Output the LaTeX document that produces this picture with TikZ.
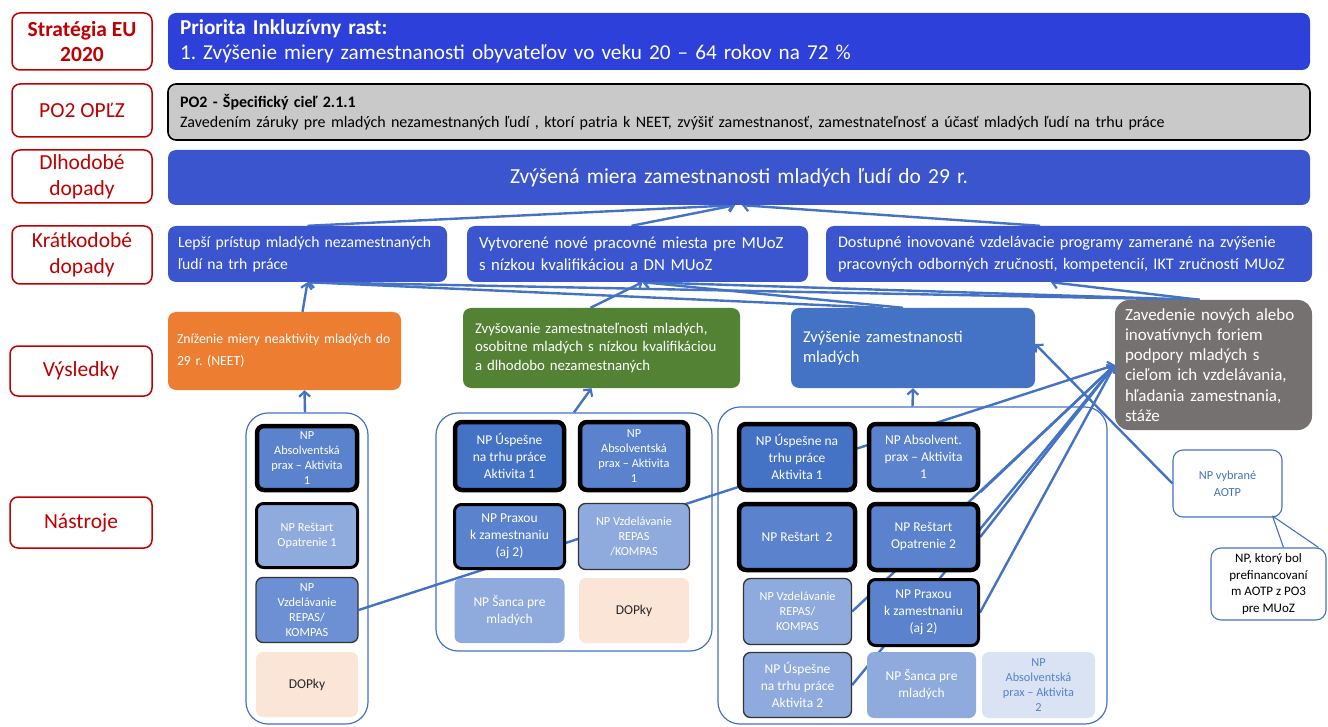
\documentclass[tikz,border=0pt]{standalone}
\usepackage{fontspec}
\setmainfont{Carlito}
\usetikzlibrary{arrows.meta,calc}
\definecolor{labred}{HTML}{C00000}
\definecolor{topblue}{HTML}{2E40DA}
\definecolor{midblue}{HTML}{3B55CF}
\definecolor{bandgray}{HTML}{C9C9C9}
\definecolor{resorange}{HTML}{ED7D31}
\definecolor{resgreen}{HTML}{548235}
\definecolor{resblue}{HTML}{4472C4}
\definecolor{resgray}{HTML}{767171}
\definecolor{tdark}{HTML}{4472C4}
\definecolor{tmed}{HTML}{5A82CD}
\definecolor{tmed2}{HTML}{6D90D4}
\definecolor{tlight}{HTML}{8FAADC}
\definecolor{tvlight}{HTML}{DAE3F3}
\definecolor{tpeach}{HTML}{FBE5D6}
\definecolor{lineblue}{HTML}{4472C4}
\pgfdeclarelayer{grp}
\pgfdeclarelayer{con}
\pgfsetlayers{grp,con,main}
\frenchspacing
\begin{document}
\begin{tikzpicture}[x=1pt,y=-1pt,
  lab/.style={draw=labred, line width=1.5pt, rounded corners=8pt, fill=white, text=labred, align=center, inner sep=0pt, font=\fontsize{21.5}{26}\selectfont},
  band/.style={rounded corners=8pt, inner sep=0pt, inner xsep=12pt, align=left},
  grpbox/.style={draw=lineblue, line width=1.2pt, rounded corners=22pt, inner sep=0pt},
  tool/.style={rounded corners=7pt, inner sep=0pt, align=center, text=white, font=\fontsize{13.5}{17}\selectfont},
  tsmall/.style={font=\fontsize{12.3}{15}\selectfont},
  bthick/.style={draw=black, line width=4.5pt},
  bmed/.style={draw=black, line width=3pt},
  bthin/.style={draw=black!80, line width=1.3pt},
  con/.style={draw=lineblue, line width=2.4pt, -{Straight Barb[length=5pt,width=11pt,line width=2.2pt]}},
  callbox/.style={draw=lineblue, line width=1.1pt, rounded corners=10pt, fill=white, inner sep=0pt, align=center}
]
\useasboundingbox (0,0) rectangle (1328,727);

% left labels
\node[lab, font=\bfseries\fontsize{21.5}{25}\selectfont, minimum width=140, minimum height=57] (lStrat) at (82,41.5) {Stratégia EU\\2020};
\node[lab, minimum width=140, minimum height=53] (lPO2) at (82,110.5) {PO2 OPĽZ};
\node[lab, minimum width=140, minimum height=53] (lDl) at (82,176.5) {Dlhodobé\\dopady};
\node[lab, minimum width=140, minimum height=58] (lKr) at (82,255) {Krátkodobé\\dopady};
\node[lab, minimum width=142, minimum height=50] (lVy) at (81,371) {Výsledky};
\node[lab, minimum width=142, minimum height=51] (lNa) at (81,522.5) {Nástroje};

% bands
\node[band, fill=topblue, text=white, text width=1118, minimum height=57, font=\fontsize{21.2}{25}\selectfont] (top) at (739,41.5) {\textbf{Priorita Inkluzívny rast:}\\1. Zvýšenie miery zamestnanosti obyvateľov vo veku 20 – 64 rokov na 72 \%};
\node[band, fill=bandgray, draw=black, line width=1.6pt, text=black, text width=1118, minimum height=56, font=\fontsize{16}{20.5}\selectfont] (po2) at (739,112) {\textbf{PO2 - Špecifický cieľ 2.1.1}\\Zavedením záruky pre mladých nezamestnaných ľudí , ktorí patria k NEET, zvýšiť zamestnanosť, zamestnateľnosť a účasť mladých ľudí na trhu práce};
\node[band, fill=midblue, text=white, align=center, text width=1118, minimum height=55, font=\fontsize{21.5}{25}\selectfont] (dl) at (739,177.5) {Zvýšená miera zamestnanosti mladých ľudí do 29 r.};

% short-term impacts
\node[band, fill=midblue, text=white, inner xsep=10pt, text width=259, minimum height=56, font=\fontsize{15.7}{22}\selectfont] (kA) at (307.5,254) {Lepší prístup mladých nezamestnaných\\ľudí na trh práce};
\node[band, fill=midblue, text=white, text width=317, minimum height=56, font=\fontsize{16.8}{22}\selectfont] (kB) at (637.5,254) {Vytvorené nové pracovné miesta pre MUoZ\\s nízkou kvalifikáciou a DN MUoZ};
\node[band, fill=midblue, text=white, text width=462, minimum height=56, font=\fontsize{16.2}{22}\selectfont] (kC) at (1069,254) {Dostupné inovované vzdelávacie programy zamerané na zvýšenie\\pracovných odborných zručností, kompetencií, IKT zručností MUoZ};

% results
\node[band, fill=resorange, text=white, inner xsep=9pt, text width=215, minimum height=78, font=\fontsize{13.8}{22}\selectfont] (vO) at (284.5,351) {Zníženie miery neaktivity mladých do\\29 r. (NEET)};
\node[band, fill=resgreen, text=white, text width=253, minimum height=80, font=\fontsize{14.8}{18.5}\selectfont] (vG) at (601.5,348) {Zvyšovanie zamestnateľnosti mladých,\\osobitne mladých s nízkou kvalifikáciou\\a dlhodobo nezamestnaných};
\node[band, fill=resblue, text=white, text width=220, minimum height=80, font=\fontsize{16.5}{20}\selectfont] (vB) at (913,348) {Zvýšenie zamestnanosti\\mladých};
\node[band, fill=resgray, text=white, inner xsep=10pt, text width=177, minimum height=130, rounded corners=14pt, font=\fontsize{17}{20.3}\selectfont] (vR) at (1213.5,365) {Zavedenie nových alebo\\inovatívnych foriem\\podpory mladých s\\cieľom ich vzdelávania,\\hľadania zamestnania,\\stáže};

% groups
\begin{pgfonlayer}{grp}
\node[grpbox, minimum width=122, minimum height=311] (g1) at (307,568.5) {};
\node[grpbox, minimum width=276, minimum height=238] (g2) at (574,532) {};
\node[grpbox, minimum width=389, minimum height=317] (g3) at (912.5,565.5) {};
\end{pgfonlayer}

% group 1 tools
\node[tool, tsmall, bthick, fill=tmed, minimum width=100, minimum height=64] (t1Abs) at (307,458) {NP\\Absolventská\\prax – Aktivita\\1};
\node[tool, tsmall, bmed, fill=tlight, minimum width=101, minimum height=64] (t1Res) at (307,535.5) {NP Reštart\\Opatrenie 1};
\node[tool, tsmall, bthin, fill=tmed2, minimum width=102, minimum height=65] (t1Rep) at (307,610) {NP\\Vzdelávanie\\REPAS/\\KOMPAS};
\node[tool, fill=tpeach, text=black!85, minimum width=102, minimum height=65] (t1Dop) at (307,684.5) {DOPky};

% group 2 tools
\node[tool, bthick, fill=tdark, minimum width=109, minimum height=68] (t2Usp1) at (509.5,456) {NP Úspešne\\na trhu práce\\Aktivita 1};
\node[tool, tsmall, bthick, fill=tmed, minimum width=108, minimum height=68] (t2Abs) at (634,456) {NP\\Absolventská\\prax – Aktivita\\1};
\node[tool, bmed, fill=tmed, minimum width=110, minimum height=64] (t2Prax) at (509.5,536.5) {NP Praxou\\k zamestnaniu\\(aj 2)};
\node[tool, tsmall, bthin, fill=tlight, minimum width=111, minimum height=66] (t2Rep) at (634,536.5) {NP Vzdelávanie\\REPAS\\/KOMPAS};
\node[tool, fill=tlight, minimum width=110, minimum height=65] (t2San) at (509.5,610.5) {NP Šanca pre\\mladých};
\node[tool, fill=tpeach, text=black!85, minimum width=110, minimum height=65] (t2Dop) at (634,610.5) {DOPky};

% group 3 tools
\node[tool, bthick, fill=tdark, minimum width=116, minimum height=66] (t3Usp1) at (797,457) {NP Úspešne na\\trhu práce\\Aktivita 1};
\node[tool, bthick, fill=tmed, minimum width=109, minimum height=66] (t3Abs) at (923.5,457) {NP Absolvent.\\prax – Aktivita\\1};
\node[tool, bthick, fill=tmed, minimum width=116, minimum height=66] (t3Res2) at (797,537) {NP Reštart~ 2};
\node[tool, bthick, fill=tmed, minimum width=109, minimum height=66] (t3RO) at (923.5,537) {NP Reštart\\Opatrenie 2};
\node[tool, tsmall, bthin, fill=tlight, minimum width=108, minimum height=66] (t3Rep) at (797.5,611.5) {NP Vzdelávanie\\REPAS/\\KOMPAS};
\node[tool, bmed, fill=tmed, minimum width=110, minimum height=66] (t3Prax) at (923.5,612.5) {NP Praxou\\k zamestnaniu\\(aj 2)};
\node[tool, bthin, fill=tlight, minimum width=108, minimum height=65] (t3Usp2) at (797.5,685) {NP Úspešne\\na trhu práce\\Aktivita 2};
\node[tool, fill=tlight, minimum width=109, minimum height=66] (t3San) at (921.5,685) {NP Šanca pre\\mladých};
\node[tool, tsmall, fill=tvlight, text=tdark!90, minimum width=113, minimum height=66] (t3Abs2) at (1038.5,685) {NP\\Absolventská\\prax – Aktivita\\2};

% callouts
\node[callbox, text=tdark, minimum width=109, minimum height=67, font=\fontsize{12.3}{17}\selectfont] (aotp) at (1227.5,483.5) {NP vybrané\\AOTP};
\node[callbox, text=black, minimum width=115, minimum height=72, font=\fontsize{13}{16.5}\selectfont] (bub) at (1268.5,584) {NP, ktorý bol\\prefinancovaní\\m AOTP z PO3\\pre MUoZ};
\fill[white] ([xshift=15,yshift=1.5]bub.north) -- ([xshift=45,yshift=1.5]aotp.south) -- ([xshift=50,yshift=1.5]bub.north) -- cycle;
\draw[draw=lineblue, line width=1.1pt, line join=round] ([xshift=15]bub.north) -- ([xshift=45,yshift=1.5]aotp.south) -- ([xshift=50]bub.north);

% connectors
\begin{pgfonlayer}{con}
\draw[con] (kA.north) -- ([xshift=-4]dl.south);
\draw[con] ([xshift=-6]kB.north) -- ([xshift=-4]dl.south);
\draw[con] ([xshift=-29]kC.north) -- ([xshift=3]dl.south);
\draw[con] ([xshift=18]vO.north) -- (kA.south);
\draw[con] ([xshift=-11]vG.north) -- ([xshift=5]kB.south);
\draw[con] ([xshift=-30]vB.north) -- (kA.south);
\draw[con] ([xshift=-10]vB.north) -- ([xshift=5]kB.south);
\draw[con] ([xshift=-14]vR.north) -- (kA.south);
\draw[con] ([xshift=-14]vR.north) -- ([xshift=5]kB.south);
\draw[con] ([xshift=-14]vR.north) -- ([xshift=-18]kC.south);
\draw[con] ([xshift=-2]g1.north) -- ([xshift=20]vO.south);
\draw[con] (g2.north) -- ([xshift=-10]vG.south);
\draw[con] (g3.north) -- (vB.south);
\draw[con] (t1Rep.east) -- (vR.west);
\draw[con] (t3Abs.south east) -- (vR.west);
\draw[con] (t3RO.east) -- (vR.west);
\draw[con] (t3Prax.east) -- (vR.west);
\draw[con] (t3Rep.east) -- (vR.west);
\draw[con] (t3Usp2.east) -- (vR.west);
\draw[con] (aotp.west) -- ([yshift=4]vB.east);
\end{pgfonlayer}
\end{tikzpicture}
\end{document}
